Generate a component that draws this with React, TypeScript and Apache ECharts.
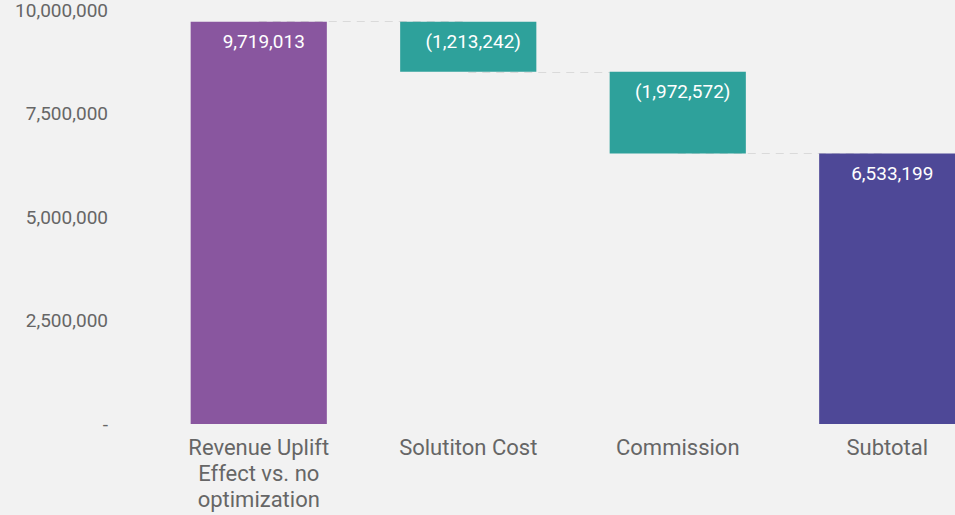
import React, { useEffect, useRef } from "react";
import * as echarts from "echarts";

const categories = ["Revenue Uplift\nEffect vs. no\noptimization", "Solutiton Cost", "Commission", "Subtotal"];
const baseValues = [0, 8505771, 6533199, 0];
const barValues = [9719013, 1213242, 1972572, 6533199];
const labelValues = [9719013, -1213242, -1972572, 6533199];
const connectorLevels = [9719013, 8505771, 6533199];
const yTicks = [0, 2500000, 5000000, 7500000, 10000000];

const colors = ["#89569f", "#2ea19b", "#2ea19b", "#4e4897"];

const fmt = (v: number) => Math.abs(v).toLocaleString("en-US");

export default function App() {
  const ref = useRef<HTMLDivElement>(null);
  useEffect(() => {
    document.body.style.margin = "0";
    const chart = echarts.init(ref.current!, undefined, { renderer: "svg" });
    chart.setOption({
      animation: false,
      backgroundColor: "#f2f2f2",
      textStyle: { fontFamily: "Roboto" },
      grid: { left: 154, right: 0, top: 10, bottom: 91, containLabel: false },
      xAxis: {
        type: "category",
        data: categories,
        axisLine: { show: false },
        axisTick: { show: false },
        axisLabel: { color: "#666666", fontSize: 22, lineHeight: 26, margin: 10, interval: 0 },
      },
      yAxis: {
        type: "value",
        min: yTicks[0],
        max: yTicks[yTicks.length - 1],
        interval: 2500000,
        splitLine: { show: false },
        axisLine: { show: false },
        axisTick: { show: false },
        axisLabel: {
          color: "#666666",
          fontSize: 19,
          lineHeight: 14,
          margin: 46,
          formatter: (v: number) => (v === 0 ? "-" : v.toLocaleString("en-US")),
        },
      },
      series: [
        {
          type: "bar",
          stack: "w",
          barWidth: "65%",
          itemStyle: { color: "transparent" },
          data: baseValues,
          silent: true,
          z: 1,
          markLine: {
            z: 0,
            symbol: "none",
            silent: true,
            label: { show: false },
            lineStyle: { color: "#dadada", type: [8, 6], width: 1.2 },
            data: connectorLevels.map((lvl, i) => [
              { coord: [categories[i], lvl] },
              { coord: [categories[i + 1], lvl] },
            ]),
          },
        },
        {
          type: "bar",
          stack: "w",
          barWidth: "65%",
          z: 3,
          data: barValues.map((v, i) => ({ value: v, itemStyle: { color: colors[i] } })),
          label: {
            show: true,
            position: "insideTop",
            distance: 10,
            offset: [5, 0],
            color: "#ffffff",
            fontSize: 19,
            formatter: (p: any) => {
              const v = labelValues[p.dataIndex];
              return v < 0 ? `(${fmt(v)})` : fmt(v);
            },
          },
        },
      ],
    });
    return () => chart.dispose();
  }, []);
  return (
    <div style={{ width: 955, height: 515, overflow: "hidden" }}>
      <div ref={ref} style={{ width: 992, height: 515 }} />
    </div>
  );
}
